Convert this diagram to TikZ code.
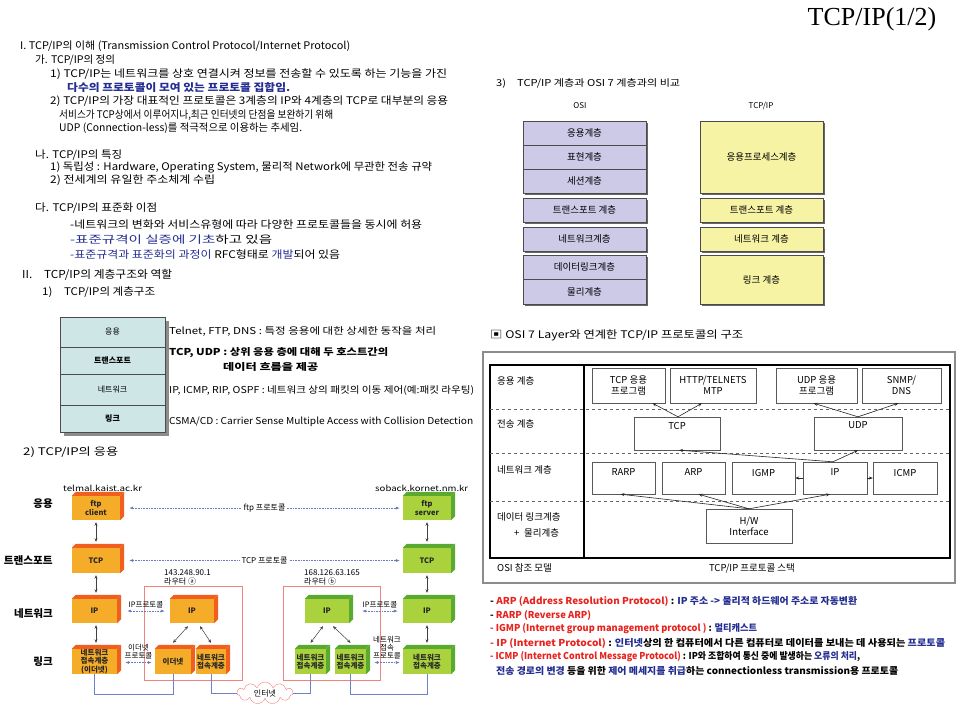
\documentclass[tikz,border=0pt]{standalone}
\usepackage{graphicx}
\usepackage{fontspec}
\setmainfont{Noto Sans CJK KR}
\newfontfamily\seriffont{Liberation Serif}
\usetikzlibrary{arrows.meta,shapes.symbols}
\definecolor{tblue}{RGB}{35,45,145}
\definecolor{tred}{RGB}{232,35,30}
\definecolor{orf}{RGB}{245,172,40}
\definecolor{ors}{RGB}{240,95,30}
\definecolor{grf}{RGB}{170,210,60}
\definecolor{grs}{RGB}{90,170,50}
\definecolor{lav}{RGB}{205,202,232}
\definecolor{ylw}{RGB}{246,243,165}
\definecolor{tealc}{RGB}{206,230,230}
\definecolor{rboxc}{RGB}{240,130,130}
\definecolor{lnkc}{RGB}{110,130,200}
\definecolor{prtc}{RGB}{110,120,190}
\newcommand\fa{\fontsize{10.5}{12}\selectfont}
\newcommand\fb{\fontsize{9.5}{11}\selectfont}
\newcommand\fc{\fontsize{8}{9}\selectfont}
\newcommand\fd{\fontsize{7.5}{8.2}\selectfont}
\newcommand\wt[2]{\resizebox{#1pt}{\height}{#2}}
\newcommand\bx[7]{\node[#6, minimum width={#4-#2}, minimum height={#5-#3}, anchor=center] (#1) at ({(#2+#4)/2},{(#3+#5)/2}) {#7};}
\newcommand\cube[8]{%
 \node[cubeface, fill=#6, minimum width={#4-#2}, minimum height={#5-#3}, anchor=center] (#1) at ({(#2+#4)/2},{(#3+#5)/2}) {#8};
 \fill[#7] (#1.north west) -- ++(4,-4) -- ([shift={(4pt,4pt)}]#1.north east) -- (#1.north east) -- cycle;
 \fill[#7] (#1.north east) -- ++(4,-4) -- ([shift={(4pt,4pt)}]#1.south east) -- (#1.south east) -- cycle;}
\tikzset{
 t/.style={anchor=west, inner sep=0pt, font=\fa},
 tb/.style={anchor=west, inner sep=0pt, font=\fb},
 cubeface/.style={inner sep=0pt, align=center, font=\fd\bfseries, text=black!85},
 layerbox/.style={draw=black!70, fill=tealc, inner sep=0pt, font=\fc},
 rbx/.style={draw=rboxc, line width=.6},
 varr/.style={{Stealth[length=3.5pt,width=3pt]}-{Stealth[length=3.5pt,width=3pt]}, draw=black!75, line width=.5},
 proto/.style={{Latex[length=4pt,width=3pt]}-{Latex[length=4pt,width=3pt]}, draw=prtc, densely dotted, line width=.6},
 lnk/.style={draw=lnkc, line width=.8},
 osib/.style={draw=black!70, fill=lav, inner sep=0pt, font=\fb},
 tipb/.style={draw=black!70, fill=ylw, inner sep=0pt, font=\fb},
 sb/.style={draw=black!65, fill=white, inner sep=0pt, align=center, font=\fb},
 sarr/.style={-{Stealth[length=4pt,width=3pt]}, draw=black!85, line width=.6},
}
\begin{document}
\begin{tikzpicture}[x=1pt,y=-1pt]
\useasboundingbox (0,0) rectangle (960,720);
\fill[white] (0,0) rectangle (960,720);
% title
\node[font=\seriffont\fontsize{26}{28}\selectfont, inner sep=0pt] (title) at (872,19) {TCP/IP(1/2)};
% ---------- left text
\node[t] (l1) at (20,46) {\wt{330}{I. TCP/IP의 이해 (Transmission Control Protocol/Internet Protocol)}};
\node[t] (l2) at (35,60) {\wt{80}{가. TCP/IP의 정의}};
\node[t] (l3) at (50,74) {\wt{397}{1) TCP/IP는 네트워크를 상호 연결시켜 정보를 전송할 수 있도록 하는 기능을 가진}};
\node[t, text=tblue, font=\fa\bfseries] (l4) at (67,88) {\wt{223}{다수의 프로토콜이 모여 있는 프로토콜 집합임.}};
\node[t] (l5) at (50,101) {\wt{398}{2) TCP/IP의 가장 대표적인 프로토콜은 3계층의 IP와 4계층의 TCP로 대부분의 응용}};
\node[t] (l6) at (59,115) {\wt{274}{서비스가 TCP상에서 이루어지나,최근 인터넷의 단점을 보완하기 위해}};
\node[t] (l7) at (59,128) {\wt{243}{UDP (Connection-less)를 적극적으로 이용하는 추세임.}};
\node[t] (l8) at (35,155) {\wt{87}{나. TCP/IP의 특징}};
\node[t] (l9) at (50,167) {\wt{382}{1) 독립성 : Hardware, Operating System, 물리적 Network에 무관한 전송 규약}};
\node[t] (l10) at (50,180) {\wt{165}{2) 전세계의 유일한 주소체계 수립}};
\node[t] (l11) at (35,208) {\wt{122}{다. TCP/IP의 표준화 이점}};
\node[t] (l12) at (70,225) {\wt{352}{-네트워크의 변화와 서비스유형에 따라 다양한 프로토콜들을 동시에 허용}};
\node[t] (l13) at (70,240) {\wt{202}{\textcolor{tblue}{-표준규격이 실증에 기초}하고 있음}};
\begin{scope}
\clip (0,246) rectangle (480,258);
\node[t] (l14) at (70,255) {\wt{270}{\textcolor{tblue}{-표준규격과 표준화의 과정이} RFC형태로 \textcolor{tblue}{개발}되어 있음}};
\end{scope}
\node[t, font=\fontsize{11}{13}\selectfont] (l15) at (22,275) {\wt{150}{II.\quad TCP/IP의 계층구조와 역할}};
\node[t] (l16) at (42,292) {\wt{113}{1)\quad TCP/IP의 계층구조}};
% ---------- layer box
\fill[black!45] (64,321) rectangle (169,436);
\bx{ly1}{60}{317}{165}{347}{layerbox}{응용}
\bx{ly2}{60}{347}{165}{374}{layerbox, font=\fc\bfseries}{트랜스포트}
\bx{ly3}{60}{374}{165}{405}{layerbox}{네트워크}
\bx{ly4}{60}{405}{165}{432}{layerbox, font=\fc\bfseries}{링크}
\node[tb] (d1) at (169,331) {\wt{267}{Telnet, FTP, DNS : 특정 응용에 대한 상세한 동작을 처리}};
\node[tb, font=\fb\bfseries] (d2) at (169,353) {\wt{219}{TCP, UDP : 상위 응용 층에 대해 두 호스트간의}};
\node[tb, font=\fb\bfseries] (d2b) at (223,367) {\wt{95}{데이터 흐름을 제공}};
\node[tb] (d3) at (169,390) {\wt{305}{IP, ICMP, RIP, OSPF : 네트워크 상의 패킷의 이동 제어(예:패킷 라우팅)}};
\node[tb] (d4) at (169,422) {\wt{304}{CSMA/CD : Carrier Sense Multiple Access with Collision Detection}};
\node[t] (l17) at (23,452) {\wt{95}{2) TCP/IP의 응용}};
% ---------- network diagram
\node[anchor=west, inner sep=0pt, font=\fc] (hostL) at (63,488) {\wt{79}{telmal.kaist.ac.kr}};
\node[anchor=west, inner sep=0pt, font=\fc] (hostR) at (375,488) {\wt{93}{soback.kornet.nm.kr}};
\node[anchor=east, inner sep=0pt, font=\fa\bfseries] (rowA) at (53,504) {응용};
\node[anchor=east, inner sep=0pt, font=\fa\bfseries] (rowT) at (53,560) {\wt{49}{트랜스포트}};
\node[anchor=east, inner sep=0pt, font=\fa\bfseries] (rowN) at (53,614) {네트워크};
\node[anchor=east, inner sep=0pt, font=\fa\bfseries] (rowL) at (53,662) {링크};
\bx{routerA}{144}{586}{242}{680}{rbx}{}
\bx{routerB}{283}{586}{380}{680}{rbx}{}
\node[anchor=west, inner sep=0pt, font=\fc, align=left] (raddrA) at (164,577) {143.248.90.1\\라우터 ⓐ};
\node[anchor=west, inner sep=0pt, font=\fc, align=left] (raddrB) at (304,577) {168.126.63.165\\라우터 ⓑ};
\cube{ftpc}{72}{496}{120}{520}{orf}{ors}{ftp\\client}
\cube{tcpL}{72}{548}{120}{573}{orf}{ors}{TCP}
\cube{ipL}{72}{599}{117}{623}{orf}{ors}{IP}
\cube{lkL}{72}{649}{117}{674}{orf}{ors}{네트워크\\접속계층\\(이더넷)}
\cube{ipA}{170}{599}{214}{623}{orf}{ors}{IP}
\cube{ethA}{155}{649}{191}{674}{orf}{ors}{이더넷}
\cube{netA}{196}{649}{226}{674}{orf}{ors}{네트워크\\접속계층}
\cube{ipB}{305}{599}{349}{623}{grf}{grs}{IP}
\cube{netB1}{295}{649}{326}{674}{grf}{grs}{네트워크\\접속계층}
\cube{netB2}{335}{649}{366}{674}{grf}{grs}{네트워크\\접속계층}
\cube{ftps}{403}{496}{451}{520}{grf}{grs}{ftp\\server}
\cube{tcpR}{403}{548}{451}{573}{grf}{grs}{TCP}
\cube{ipR}{403}{599}{451}{623}{grf}{grs}{IP}
\cube{lkR}{403}{649}{451}{674}{grf}{grs}{네트워크\\접속계층}
\node[cloud, cloud puffs=11, aspect=2.6, draw=rboxc, fill=white, minimum width=56, minimum height=22, inner sep=0pt, font=\fc] (cloud) at (265,693) {인터넷};
% blue links
\draw[lnk] (lkL.south) -- ++(0,20) -| (ethA.south);
\draw[lnk] (netA.south) |- (cloud.west);
\draw[lnk] (cloud.east) -| (netB1.south);
\draw[lnk] (netB2.south) -- ++(0,20) -| (lkR.south);
% vertical arrows
\draw[varr] ([yshift=-2pt]ftpc.south) -- ([yshift=6pt]tcpL.north);
\draw[varr] ([yshift=-2pt]tcpL.south) -- ([yshift=6pt]tcpL.south |- ipL.north);
\draw[varr] ([yshift=-2pt]tcpL.south |- ipL.south) -- ([yshift=6pt]tcpL.south |- lkL.north);
\draw[varr] ([yshift=-2pt]ftps.south) -- ([yshift=6pt]tcpR.north);
\draw[varr] ([yshift=-2pt]tcpR.south) -- ([yshift=6pt]ipR.north);
\draw[varr] ([yshift=-2pt]ipR.south) -- ([yshift=6pt]lkR.north);
\draw[varr] ([shift={(-4pt,-3pt)}]ipA.south) -- ([yshift=6pt]ethA.north);
\draw[varr] ([shift={(8pt,-3pt)}]ipA.south) -- ([yshift=6pt]netA.north);
\draw[varr] ([shift={(-4pt,-3pt)}]ipB.south) -- ([yshift=6pt]netB1.north);
\draw[varr] ([shift={(6pt,-3pt)}]ipB.south) -- ([yshift=6pt]netB2.north);
% protocol arrows
\draw[proto] ([xshift=9pt]ftpc.east) -- ([xshift=-3pt]ftps.west) node[midway, fill=white, inner sep=2pt, text=black, font=\fc] (pftp) {ftp 프로토콜};
\draw[proto] ([xshift=9pt]tcpL.east) -- ([xshift=-3pt]tcpR.west) node[midway, fill=white, inner sep=2pt, text=black, font=\fc] (ptcp) {TCP 프로토콜};
\draw[proto] ([xshift=10pt]ipL.east) -- ([xshift=-5pt]ipA.west) node[midway, above=3pt, inner sep=0pt, text=black, font=\fd] (pipL) {IP프로토콜};
\draw[proto] ([xshift=13pt]ipB.east) -- ([xshift=-5pt]ipR.west) node[midway, above=3pt, inner sep=0pt, text=black, font=\fd] (pipR) {IP프로토콜};
\draw[proto] ([xshift=8pt,yshift=-1pt]lkL.east) -- ([xshift=-3pt,yshift=-1pt]ethA.west) node[midway, above=3pt, inner sep=0pt, text=black, font=\fd, align=center] (peth) {이더넷\\프로토콜};
\draw[proto] ([xshift=8pt,yshift=-1pt]netB2.east) -- ([xshift=-3pt,yshift=-1pt]lkR.west) node[midway, above=3pt, inner sep=0pt, text=black, font=\fd, align=center] (pnet) {네트워크\\접속\\프로토콜};
% ---------- OSI vs TCP/IP
\node[tb] (r1) at (496,83) {\wt{184}{3)\quad TCP/IP 계층과 OSI 7 계층과의 비교}};
\node[inner sep=0pt, font=\fc] (hosi) at (580,106) {OSI};
\node[inner sep=0pt, font=\fc] (htip) at (761,106) {TCP/IP};
\fill[black!60] (525,123) rectangle (648,195);
\fill[black!60] (525,200) rectangle (648,224);
\fill[black!60] (525,229) rectangle (648,253);
\fill[black!60] (525,257) rectangle (648,306);
\fill[black!60] (702,123) rectangle (825,195);
\fill[black!60] (702,200) rectangle (825,224);
\fill[black!60] (702,229) rectangle (825,253);
\fill[black!60] (702,257) rectangle (825,306);
\bx{osi1}{523}{121}{646}{145}{osib}{응용계층}
\bx{osi2}{523}{145}{646}{169}{osib}{표현계층}
\bx{osi3}{523}{169}{646}{193}{osib}{세션계층}
\bx{osi4}{523}{198}{646}{222}{osib}{트랜스포트 계층}
\bx{osi5}{523}{227}{646}{251}{osib}{네트워크계층}
\bx{osi6}{523}{255}{646}{279}{osib}{데이터링크계층}
\bx{osi7}{523}{279}{646}{304}{osib}{물리계층}
\bx{tip1}{700}{121}{823}{193}{tipb}{응용프로세스계층}
\bx{tip2}{700}{198}{823}{222}{tipb}{트랜스포트 계층}
\bx{tip3}{700}{227}{823}{251}{tipb}{네트워크 계층}
\bx{tip4}{700}{255}{823}{304}{tipb}{링크 계층}
% ---------- protocol stack
\node[t, font=\fontsize{10.5}{12}\selectfont] (r2) at (490,335) {\wt{253}{▣ OSI 7 Layer와 연계한 TCP/IP 프로토콜의 구조}};
\draw[black!45, line width=1.2] (483,352) rectangle (955,583);
\draw[line width=1.4] (490,365) rectangle (950,558);
\draw[line width=1.4] (584,365) -- (584,558);
\draw[dashed, black!60, line width=.6] (490,409) -- (950,409);
\draw[dashed, black!60, line width=.6] (490,453) -- (950,453);
\draw[dashed, black!60, line width=.6] (490,501) -- (950,501);
\node[tb] (s1) at (497,381) {응용 계층};
\node[tb] (s2) at (497,424) {전송 계층};
\node[tb] (s3) at (497,470) {네트워크 계층};
\node[tb] (s4) at (497,517) {데이터 링크계층};
\node[tb] (s5) at (514,533) {+\enspace 물리계층};
\node[tb] (s6) at (497,568) {OSI 참조 모델};
\node[inner sep=0pt, font=\fb] (s7) at (752,568) {TCP/IP 프로토콜 스택};
\bx{tapp}{592}{368}{665}{403}{sb}{TCP 응용\\프로그램}
\bx{http}{670}{368}{756}{403}{sb}{HTTP/TELNETS\\MTP}
\bx{uapp}{776}{368}{857}{403}{sb}{UDP 응용\\프로그램}
\bx{snmp}{862}{368}{941}{403}{sb}{SNMP/\\DNS}
\bx{tcp}{634}{417}{720}{450}{sb}{}
\bx{udp}{814}{417}{902}{450}{sb}{}
\node[anchor=north, inner sep=0pt, font=\fb] (tcpt) at ([yshift=-5pt]tcp.north) {TCP};
\node[anchor=north, inner sep=0pt, font=\fb] (udpt) at ([yshift=-5pt]udp.north) {UDP};
\bx{rarp}{592}{462}{655}{494}{sb}{}
\bx{arp}{662}{462}{725}{494}{sb}{}
\bx{igmp}{732}{462}{795}{494}{sb}{}
\bx{ip}{803}{462}{867}{494}{sb}{}
\bx{icmp}{873}{462}{937}{494}{sb}{}
\node[anchor=north, inner sep=0pt, font=\fb] (rarpt) at ([yshift=-7pt]rarp.north) {RARP};
\node[anchor=north, inner sep=0pt, font=\fb] (arpt) at ([yshift=-7pt]arp.north) {ARP};
\node[anchor=north, inner sep=0pt, font=\fb] (igmpt) at ([yshift=-7pt]igmp.north) {IGMP};
\node[anchor=north, inner sep=0pt, font=\fb] (ipt) at ([yshift=-7pt]ip.north) {IP};
\node[anchor=north, inner sep=0pt, font=\fb] (icmpt) at ([yshift=-7pt]icmp.north) {ICMP};
\bx{hw}{706}{509}{792}{543}{sb}{H/W\\Interface}
\draw[sarr] ([xshift=1pt]tcp.north) -- ([xshift=24pt]tapp.south);
\draw[sarr] ([xshift=1pt]tcp.north) -- ([xshift=-11pt]http.south);
\draw[sarr] (udp.north) -- ([xshift=-3pt]uapp.south);
\draw[sarr] (udp.north) -- ([xshift=-3pt]snmp.south);
\draw[sarr] ([xshift=-2pt]ip.north) -- ([xshift=2pt]tcp.south);
\draw[sarr] ([xshift=-2pt]ip.north) -- (udp.south);
\draw[sarr] (ip.west) -- (igmp.east);
\draw[sarr] (ip.east) -- (icmp.west);
\draw[sarr] (hw.north) -- ([xshift=-3pt]rarp.south);
\draw[sarr] (hw.north) -- ([xshift=5pt]arp.south);
\draw[sarr] (hw.north) -- ([xshift=-5pt]ip.south);
% ---------- bottom list
\begin{scope}[every node/.style={anchor=west, inner sep=0pt, font=\fb\bfseries}]
\node (b1) at (490,601) {\wt{367}{- \textcolor{tred}{ARP (Address Resolution Protocol)} : \textcolor{tblue}{IP 주소 -> 물리적 하드웨어 주소로 자동변환}}};
\node (b2) at (490,615) {\wt{101}{- \textcolor{tred}{RARP (Reverse ARP)}}};
\node (b3) at (490,629) {\wt{267}{\textcolor{tred}{- IGMP (Internet group management protocol )} : \textcolor{tblue}{멀티캐스트}}};
\node (b4) at (490,643) {\wt{455}{\textcolor{tred}{- IP (Internet Protocol)} : \textcolor{tblue}{인터넷}상의 한 컴퓨터에서 다른 컴퓨터로 데이터를 보내는 데 사용되는 \textcolor{tblue}{프로토콜}}};
\node (b5) at (490,657) {\wt{370}{\textcolor{tred}{- ICMP (Internet Control Message Protocol)} : IP와 조합하여 통신 중에 발생하는 \textcolor{tblue}{오류의 처리},}};
\node (b6) at (496,671) {\wt{402}{\textcolor{tblue}{전송 경로의 변경} 등을 위한 \textcolor{tblue}{제어 메세지를 취급}하는 connectionless transmission용 프로토콜}};
\end{scope}
\end{tikzpicture}
\end{document}
